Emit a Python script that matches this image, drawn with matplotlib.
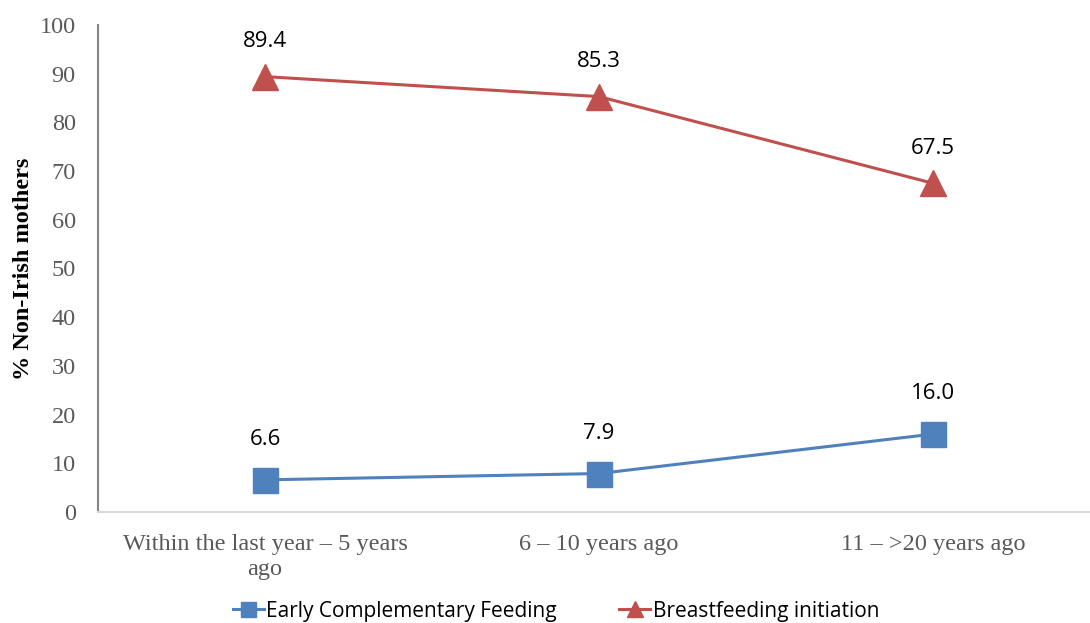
import matplotlib.pyplot as plt

categories = ["Within the last year \u2013 5 years\nago", "6 \u2013 10 years ago", "11 \u2013 >20 years ago"]
early_cf = [6.6, 7.9, 16.0]
bf_init = [89.4, 85.3, 67.5]

blue = "#4f81bd"
red = "#c0504d"

fig = plt.figure(figsize=(10.9, 6.23), dpi=100)
ax = fig.add_axes([98 / 1090, (623 - 512) / 623, 1 - 98 / 1090, (512 - 25) / 623])

x = list(range(len(categories)))
ax.plot(x, early_cf, color=blue, lw=2.2, marker="s", ms=18, label="Early Complementary Feeding")
ax.plot(x, bf_init, color=red, lw=2.2, marker="^", ms=19, label="Breastfeeding initiation")

for xi, v in zip(x, early_cf):
    ax.annotate(f"{v:.1f}", (xi, v), xytext=(0, 29), textcoords="offset points",
                ha="center", va="center", fontsize=16, family="Open Sans")
for xi, v in zip(x, bf_init):
    ax.annotate(f"{v:.1f}", (xi, v), xytext=(0, 25), textcoords="offset points",
                ha="center", va="center", fontsize=16, family="Open Sans")

ax.set_xlim(-0.5, 2.47)
ax.set_ylim(0, 100)
ax.set_yticks(range(0, 101, 10))
ax.set_xticks(x)
ax.set_xticklabels(categories, family="Liberation Serif", fontsize=17.5, color="#595959", linespacing=1.25)
for lab in ax.get_yticklabels():
    lab.set_family("Liberation Serif")
    lab.set_fontsize(17.5)
    lab.set_color("#595959")
ax.tick_params(axis="both", length=0)
ax.tick_params(axis="y", pad=16)
ax.tick_params(axis="x", pad=16)

for s in ["top", "right"]:
    ax.spines[s].set_visible(False)
ax.spines["left"].set_color("#868686")
ax.spines["left"].set_linewidth(1.5)
ax.spines["bottom"].set_color("#d9d9d9")
ax.spines["bottom"].set_linewidth(1.5)

ax.set_ylabel("% Non-Irish mothers", family="Liberation Serif", fontsize=17.5, fontweight="bold", labelpad=4)

fig.legend(loc="center", bbox_to_anchor=(0.51, 12 / 623), ncol=2, frameon=False,
           prop={"family": "Open Sans", "size": 15}, markerscale=0.6,
           handlelength=1.5, handletextpad=0.1, columnspacing=3.0)

fig.savefig("out.png")
